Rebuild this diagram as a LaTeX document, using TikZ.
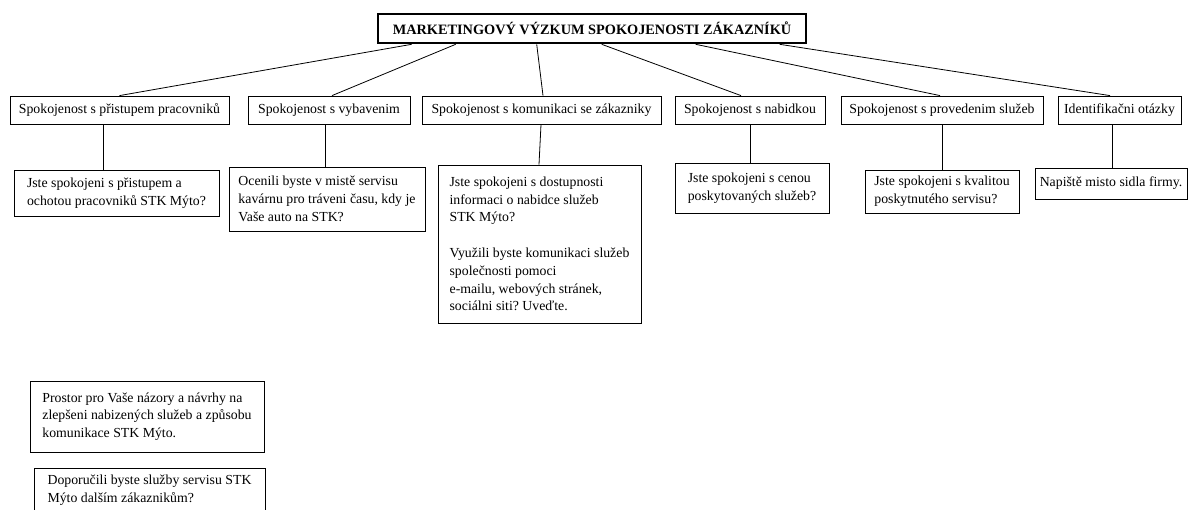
\documentclass[tikz,border=0pt]{standalone}
\usepackage{fontspec}
\setmainfont{Liberation Serif}
\begin{document}
\begin{tikzpicture}[x=1pt,y=-1pt,
  every node/.style={font=\fontsize{13.8}{17.8}\selectfont\frenchspacing},
  titlebox/.style={draw, line width=2.6pt, minimum width=428pt, minimum height=29pt, inner sep=0pt, font=\fontsize{14.3}{16}\selectfont\bfseries},
  catbox/.style={draw, line width=0.8pt, minimum height=28pt, inner xsep=3pt, inner ysep=0pt},
  qbox/.style={draw, line width=0.8pt, align=left, inner xsep=3pt, inner ysep=0pt},
  link/.style={line width=0.8pt}
]
\useasboundingbox (0,0) rectangle (1189,509);

\node[titlebox] (t) at (592,28.5) {MARKETINGOVÝ VÝZKUM SPOKOJENOSTI ZÁKAZNÍKŮ};

\node[catbox, minimum width=219pt] (l1) at (119.5,110) {Spokojenost s přistupem pracovniků};
\node[catbox, minimum width=162pt] (l2) at (329,110) {Spokojenost s vybavenim};
\node[catbox, minimum width=239pt] (l3) at (541.5,110) {Spokojenost s komunikaci se zákazniky};
\node[catbox, minimum width=150pt] (l4) at (750,110) {Spokojenost s nabidkou};
\node[catbox, minimum width=202pt] (l5) at (942,110) {Spokojenost s provedenim služeb};
\node[catbox, minimum width=123pt] (l6) at (1119.5,110) {Identifikačni otázky};

\node[qbox, minimum width=205pt, minimum height=46pt] (a) at (116.5,193) {Jste spokojeni s přistupem a\\ochotou pracovniků STK Mýto?};
\node[qbox, minimum width=196pt, minimum height=64pt] (b) at (327,199) {Ocenili byste v mistě servisu\\kavárnu pro tráveni času, kdy je\\Vaše auto na STK?};
\node[qbox, minimum width=203pt, minimum height=158pt] (c) at (539.5,244) {Jste spokojeni s dostupnosti\\informaci o nabidce služeb\\STK Mýto?\\[17.8pt]Využili byste komunikaci služeb\\společnosti pomoci\\e-mailu, webových stránek,\\sociálni siti? Uveďte.};
\node[qbox, minimum width=154pt, minimum height=50pt] (d) at (752,188) {Jste spokojeni s cenou\\poskytovaných služeb?};
\node[qbox, minimum width=154pt, minimum height=43pt] (e) at (942,191.5) {Jste spokojeni s kvalitou\\poskytnutého servisu?};
\node[qbox, minimum width=152pt, minimum height=31pt] (f) at (1111,183.5) {Napiště misto sidla firmy.};
\node[qbox, minimum width=234pt, minimum height=71pt] (g) at (147,416.5) {Prostor pro Vaše názory a návrhy na\\zlepšeni nabizených služeb a způsobu\\komunikace STK Mýto.};
\node[qbox, minimum width=231pt, minimum height=44pt] (h) at (149.5,490) {Doporučili byste služby servisu STK\\Mýto dalším zákaznikům?};

\draw[link] ([xshift=35pt]t.south west) -- (l1.north);
\draw[link] ([xshift=79pt]t.south west) -- ([xshift=3pt]l2.north);
\draw[link] ([xshift=160pt]t.south west) -- ([xshift=1.5pt]l3.north);
\draw[link] ([xshift=225pt]t.south west) -- ([xshift=-9pt]l4.north);
\draw[link] ([xshift=319pt]t.south west) -- ([xshift=-2pt]l5.north);
\draw[link] ([xshift=403pt]t.south west) -- ([xshift=-9.5pt]l6.north);

\coordinate (v1) at (103,0);
\coordinate (v2) at (325,0);
\coordinate (v3) at (541,0);
\coordinate (v3b) at (539,0);
\coordinate (v4) at (750,0);
\coordinate (v5) at (942,0);
\coordinate (v6) at (1112,0);
\draw[link] (l1.south -| v1) -- (a.north -| v1);
\draw[link] (l2.south -| v2) -- (b.north -| v2);
\draw[link] (l3.south -| v3) -- (c.north -| v3b);
\draw[link] (l4.south -| v4) -- (d.north -| v4);
\draw[link] (l5.south -| v5) -- (e.north -| v5);
\draw[link] (l6.south -| v6) -- (f.north -| v6);
\end{tikzpicture}
\end{document}
